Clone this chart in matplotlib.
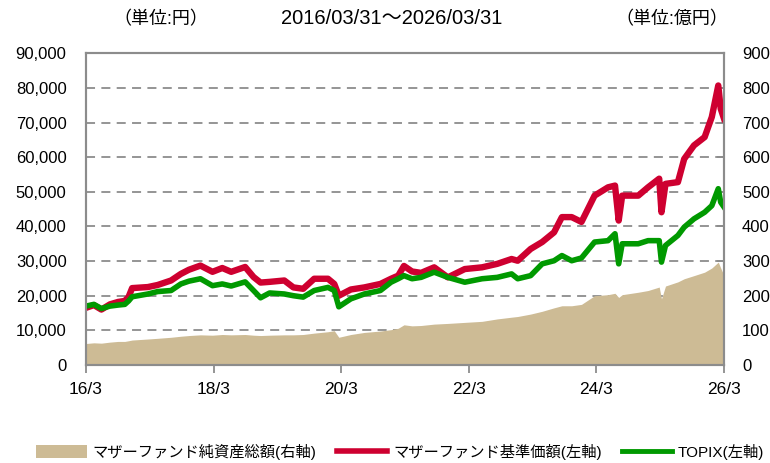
import matplotlib
matplotlib.use("Agg")
import matplotlib.pyplot as plt
from matplotlib.patches import Patch
from matplotlib.lines import Line2D
import pandas as pd

plt.rcParams['font.family'] = ['Liberation Sans', 'Noto Sans CJK JP']

# --- data ---
dates = [
    "2016-03-31", "2016-05-15", "2016-06-27", "2016-08-15", "2016-09-30", "2016-11-08",
    "2016-11-30", "2016-12-20", "2017-03-20", "2017-05-15", "2017-07-31", "2017-09-25",
    "2017-11-10", "2018-01-15", "2018-03-25", "2018-05-20", "2018-07-10", "2018-09-28",
    "2018-11-15", "2018-12-25", "2019-02-15", "2019-05-10", "2019-07-01", "2019-08-26",
    "2019-10-28", "2020-01-15", "2020-02-20", "2020-03-17", "2020-05-25", "2020-08-10",
    "2020-11-10", "2021-01-10", "2021-02-20", "2021-03-25", "2021-05-10", "2021-07-01",
    "2021-09-14", "2021-12-01", "2022-03-08", "2022-06-15", "2022-09-10", "2022-12-01",
    "2023-01-05", "2023-03-20", "2023-05-25", "2023-08-01", "2023-09-15", "2023-11-10",
    "2024-01-05", "2024-03-20", "2024-06-05", "2024-07-15", "2024-08-05", "2024-08-25",
    "2024-11-25", "2025-01-20", "2025-03-25", "2025-04-07", "2025-04-30", "2025-07-10",
    "2025-08-15", "2025-10-10", "2025-12-10", "2026-01-20", "2026-02-26", "2026-03-12",
    "2026-03-31",
]
fund_nav = [
    16500, 17300, 16000, 17500, 18200, 18500, 19700, 22200, 22500, 23100, 24400, 26300,
    27500, 28700, 26900, 28000, 26900, 28300, 25400, 23800, 24000, 24400, 22400, 22000,
    24900, 24900, 23400, 20000, 21800, 22400, 23400, 24900, 25800, 28600, 27000, 26600,
    28200, 25300, 27700, 28200, 29200, 30600, 30100, 33500, 35500, 38300, 42700, 42700,
    41300, 48900, 51300, 51800, 41700, 48900, 48900, 51300, 53800, 44100, 52300, 52800,
    59500, 63400, 65800, 71600, 80700, 74000, 71100,
]
topix = [
    17000, 17500, 16300, 17000, 17300, 17500, 18500, 19700, 20500, 21200, 21500, 23400,
    24200, 24900, 22900, 23400, 22800, 24000, 21500, 19400, 20800, 20500, 20000, 19600,
    21500, 22400, 21500, 16800, 19100, 20500, 21500, 23900, 24900, 25800, 24900, 25300,
    26800, 25300, 23900, 24900, 25300, 26300, 24900, 25800, 29200, 30100, 31600, 30100,
    30900, 35500, 35900, 37900, 29200, 35000, 35000, 35900, 35900, 29700, 34500, 37400,
    39800, 42200, 44100, 46000, 50900, 47000, 45600,
]
net_assets = [
    62, 64, 63, 66, 68, 68, 70, 72, 75, 77, 80, 83,
    85, 87, 86, 88, 87, 88, 86, 85, 86, 87, 87, 88,
    92, 96, 99, 80, 88, 94, 98, 102, 106, 116, 113, 114,
    118, 120, 123, 126, 133, 138, 140, 147, 155, 165, 171, 171,
    175, 200, 203, 207, 195, 203, 210, 215, 225, 191, 228, 240,
    249, 258, 268, 280, 297, 280, 258,
]
tick_dates = ["2016-03-31", "2018-03-31", "2020-03-31", "2022-03-31", "2024-03-31", "2026-03-31"]
tick_labels = ["16/3", "18/3", "20/3", "22/3", "24/3", "26/3"]

d = pd.to_datetime(dates)
red = '#CE0030'
green = '#009900'
tan = '#CDBB95'
gray = '#8C8C8C'

fig = plt.figure(figsize=(7.7, 4.63), dpi=100)
ax2 = fig.add_axes([0.1117, 0.2117, 0.8286, 0.6732])
ax = ax2.twinx()

# right axis: net assets area + grid (behind)
ax2.fill_between(d, net_assets, 0, color=tan, linewidth=0)
ax2.set_ylim(0, 900)
ax2.set_yticks(range(0, 901, 100))
ax2.grid(axis='y', color=gray, linestyle=(0, (5, 3.5)), linewidth=1.3)
ax2.set_axisbelow(True)
ax2.tick_params(axis='y', direction='in', length=5, color=gray, width=1.3,
                labelsize=12, pad=13, right=True, left=False,
                labelright=True, labelleft=False)

# left axis: lines
ax.yaxis.tick_left()
ax.yaxis.set_label_position('left')
ax.plot(d, fund_nav, color=red, linewidth=4.6, solid_joinstyle='round')
ax.plot(d, topix, color=green, linewidth=4.0, solid_joinstyle='round')
ax.set_ylim(0, 90000)
ax.set_yticks(range(0, 90001, 10000))
ax.set_yticklabels([f"{v:,}" for v in range(0, 90001, 10000)])
ax.tick_params(axis='y', direction='in', length=0, labelsize=12, pad=14,
               left=True, right=False, labelleft=True, labelright=False)

xt = pd.to_datetime(tick_dates)
ax2.set_xlim(xt[0], xt[-1])
ax2.set_xticks(xt)
ax2.set_xticklabels(tick_labels)
ax2.tick_params(axis='x', direction='out', length=6, color=gray, width=1.3,
                labelsize=12.5, pad=6)

for a in (ax, ax2):
    for s in a.spines.values():
        s.set_color(gray)
        s.set_linewidth(1.5)

fig.text(0.209, 0.958, "（単位:円）", ha='center', va='center', fontsize=13)
fig.text(0.509, 0.960, "2016/03/31～2026/03/31", ha='center', va='center', fontsize=14.5)
fig.text(0.873, 0.958, "（単位:億円）", ha='center', va='center', fontsize=13)

handles = [Patch(facecolor=tan, edgecolor='none'),
           Line2D([], [], color=red, linewidth=4),
           Line2D([], [], color=green, linewidth=3.5)]
labels = ["マザーファンド純資産総額(右軸)", "マザーファンド基準価額(左軸)", "TOPIX(左軸)"]
fig.legend(handles, labels, loc='center', bbox_to_anchor=(0.52, 0.024), ncol=3,
           frameon=False, fontsize=11, handlelength=3.3, handleheight=0.9,
           columnspacing=1.3, handletextpad=0.4)

fig.savefig("out.png", dpi=100)
